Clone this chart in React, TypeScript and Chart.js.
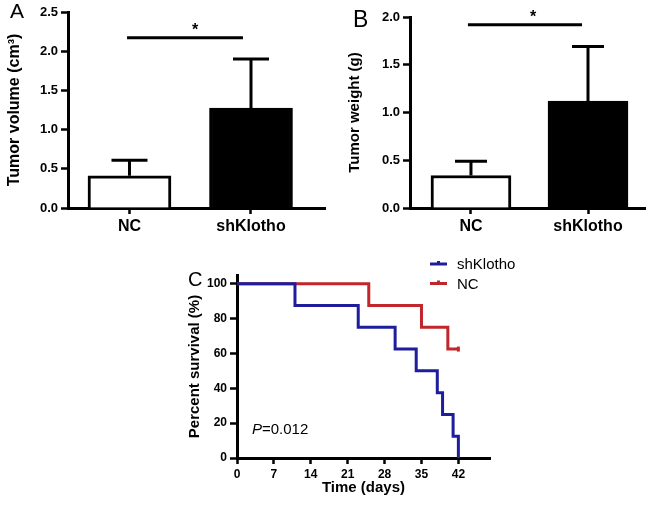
import React, { useEffect, useRef } from 'react';
import { Chart, registerables } from 'chart.js';

Chart.register(...registerables);

const FONT = "'Liberation Sans', Arial, Helvetica, sans-serif";

// ---- Panel A / B data ----
const barCategories = ['NC', 'shKlotho'];
const volumeMeans = [0.41, 1.275];
const volumeErrors = [0.2, 0.625];
const volumeTicks = [0, 0.5, 1.0, 1.5, 2.0, 2.5];
const volumeSigLine = [-0.02, 0.934, 2.17]; // from, to, level
const weightMeans = [0.34, 1.12];
const weightErrors = [0.15, 0.57];
const weightTicks = [0, 0.5, 1.0, 1.5, 2.0];
const weightSigLine = [-0.026, 0.949, 1.92];

// ---- Panel C data ----
const shKlothoDays = [0, 11, 23, 30, 34, 38, 39, 41, 42];
const shKlothoSurvival = [100, 87.5, 75, 62.5, 50, 37.5, 25, 12.5, 0];
const ncDays = [0, 25, 35, 40, 42];
const ncSurvival = [100, 87.5, 75, 62.5, 62.5];
const dayTicks = [0, 7, 14, 21, 28, 35, 42];
const survivalTicks = [0, 20, 40, 60, 80, 100];
const survivalLabels = ['shKlotho', 'NC'];

const BLUE = '#1e1e9c';
const RED = '#c0262c';

type BarProps = {
  left: number; width: number; height: number;
  means: number[]; errors: number[]; ticks: number[]; yMax: number;
  xMin: number; xMax: number; barPx: number; capPx: number;
  sig: number[]; starX: number; title: string; titleSize: number;
  panel: string; panelX: number; panelY: number; panelSize: number;
  padTop: number; yWidth: number; titlePad: number;
};

function BarPanel(p: BarProps) {
  const ref = useRef<HTMLCanvasElement | null>(null);
  useEffect(() => {
    if (!ref.current) return;
    const extras = {
      id: 'barExtras',
      afterDatasetsDraw(chart: any) {
        const ctx = chart.ctx;
        const xs = chart.scales.x;
        const ys = chart.scales.y;
        ctx.save();
        ctx.strokeStyle = '#000';
        ctx.lineWidth = 3;
        p.means.forEach((m, i) => {
          const x = xs.getPixelForValue(i);
          const y0 = ys.getPixelForValue(m);
          const y1 = ys.getPixelForValue(m + p.errors[i]);
          ctx.beginPath();
          ctx.moveTo(x, y0);
          ctx.lineTo(x, y1);
          ctx.moveTo(x - p.capPx / 2, y1);
          ctx.lineTo(x + p.capPx / 2, y1);
          ctx.stroke();
        });
        const sy = ys.getPixelForValue(p.sig[2]);
        ctx.beginPath();
        ctx.moveTo(xs.getPixelForValue(p.sig[0]), sy);
        ctx.lineTo(xs.getPixelForValue(p.sig[1]), sy);
        ctx.stroke();
        ctx.fillStyle = '#000';
        ctx.font = `bold 16px ${FONT}`;
        ctx.textAlign = 'center';
        ctx.textBaseline = 'alphabetic';
        ctx.fillText('*', xs.getPixelForValue(p.starX), sy - 3);
        ctx.font = `${p.panelSize}px ${FONT}`;
        ctx.textAlign = 'left';
        ctx.fillText(p.panel, p.panelX, p.panelY);
        ctx.restore();
      },
    };
    const chart = new Chart(ref.current, {
      type: 'bar',
      data: {
        datasets: [
          {
            data: p.means.map((m, i) => ({ x: i, y: m })),
            backgroundColor: ['#ffffff', '#000000'],
            borderColor: '#000',
            borderWidth: 3,
            barThickness: p.barPx,
          } as any,
        ],
      },
      options: {
        responsive: false,
        animation: false,
        events: [],
        layout: { padding: { top: p.padTop, right: 5, left: 0, bottom: 0 } },
        plugins: { legend: { display: false }, tooltip: { enabled: false } },
        scales: {
          x: {
            type: 'linear',
            offset: false,
            min: p.xMin,
            max: p.xMax,
            afterBuildTicks: (s: any) => { s.ticks = [0, 1].map((v) => ({ value: v })); },
            afterFit: (s: any) => { s.height = 42; },
            ticks: {
              callback: (v: any) => barCategories[Math.round(Number(v))] ?? '',
              font: { family: FONT, weight: 'bold', size: 16 },
              color: '#000',
              padding: 3,
              maxRotation: 0,
              autoSkip: false,
            },
            grid: { offset: false, drawOnChartArea: false, drawTicks: true, tickLength: 6, tickWidth: 2.5, tickColor: '#000', color: '#000' },
            border: { display: true, color: '#000', width: 3 },
          },
          y: {
            type: 'linear',
            min: 0,
            max: p.yMax,
            afterBuildTicks: (s: any) => { s.ticks = p.ticks.map((v) => ({ value: v })); },
            afterFit: (s: any) => { s.width = p.yWidth; },
            ticks: {
              callback: (v: any) => Number(v).toFixed(1),
              font: { family: FONT, weight: 'bold', size: 13 },
              color: '#000',
              padding: 3,
            },
            grid: { drawOnChartArea: false, drawTicks: true, tickLength: 7, tickWidth: 2.5, tickColor: '#000', color: '#000' },
            border: { display: true, color: '#000', width: 3 },
            title: {
              display: true,
              text: p.title,
              color: '#000',
              font: { family: FONT, weight: 'bold', size: p.titleSize },
              padding: { top: p.titlePad, bottom: 0 },
            },
          },
        },
      } as any,
      plugins: [extras],
    });
    return () => chart.destroy();
  }, []);
  return (
    <canvas
      ref={ref}
      width={p.width}
      height={p.height}
      style={{ position: 'absolute', left: p.left, top: 0, width: p.width, height: p.height }}
    />
  );
}

function SurvivalPanel() {
  const ref = useRef<HTMLCanvasElement | null>(null);
  useEffect(() => {
    if (!ref.current) return;
    const colors = [BLUE, RED];
    const extras = {
      id: 'kmExtras',
      afterDraw(chart: any) {
        const ctx = chart.ctx;
        const a = chart.chartArea;
        ctx.save();
        survivalLabels.forEach((lab, i) => {
          const y = a.top - 11 + i * 19.5;
          const x0 = a.right - 60;
          ctx.strokeStyle = colors[i];
          ctx.lineWidth = 3;
          ctx.beginPath();
          ctx.moveTo(x0, y);
          ctx.lineTo(x0 + 17, y);
          ctx.moveTo(x0 + 8.5, y);
          ctx.lineTo(x0 + 8.5, y - 3);
          ctx.stroke();
          ctx.fillStyle = '#000';
          ctx.font = `15px ${FONT}`;
          ctx.textAlign = 'left';
          ctx.textBaseline = 'middle';
          ctx.fillText(lab, x0 + 27, y + 1);
        });
        ctx.fillStyle = '#000';
        ctx.textBaseline = 'middle';
        ctx.textAlign = 'left';
        const px = a.left + 15;
        const py = a.bottom - 28;
        ctx.font = `italic 15px ${FONT}`;
        ctx.fillText('P', px, py);
        const w = ctx.measureText('P').width;
        ctx.font = `15px ${FONT}`;
        ctx.fillText('=0.012', px + w, py);
        ctx.textBaseline = 'alphabetic';
        ctx.font = `20px ${FONT}`;
        ctx.fillText('C', 12, 36);
        ctx.restore();
      },
    };
    const chart = new Chart(ref.current, {
      type: 'line',
      data: {
        datasets: [
          {
            label: survivalLabels[0],
            data: shKlothoDays.map((d, i) => ({ x: d, y: shKlothoSurvival[i] })),
            borderColor: BLUE,
            borderWidth: 3,
            stepped: 'before',
            pointRadius: 0,
            fill: false,
          },
          {
            label: survivalLabels[1],
            data: ncDays.map((d, i) => ({ x: d, y: ncSurvival[i] })),
            borderColor: RED,
            borderWidth: 3,
            stepped: 'before',
            pointRadius: ncDays.map((_, i) => (i === ncDays.length - 1 ? 2.5 : 0)),
            pointStyle: 'line',
            rotation: 90,
            pointBorderColor: RED,
            pointBorderWidth: 3,
            fill: false,
          },
        ],
      } as any,
      options: {
        responsive: false,
        animation: false,
        events: [],
        layout: { padding: { top: 25, right: 36, left: 0, bottom: 0 } },
        plugins: { legend: { display: false }, tooltip: { enabled: false } },
        scales: {
          x: {
            type: 'linear',
            min: 0,
            max: 48,
            afterBuildTicks: (s: any) => { s.ticks = dayTicks.map((v) => ({ value: v })); },
            afterFit: (s: any) => { s.height = 51; },
            ticks: { font: { family: FONT, weight: 'bold', size: 12 }, color: '#000', padding: 3, maxRotation: 0, autoSkip: false },
            grid: { drawOnChartArea: false, drawTicks: true, tickLength: 6, tickWidth: 2.5, tickColor: '#000', color: '#000' },
            border: { display: true, color: '#000', width: 3 },
            title: {
              display: true,
              text: 'Time (days)',
              color: '#000',
              font: { family: FONT, weight: 'bold', size: 15 },
              padding: { top: 0, bottom: 12 },
            },
          },
          y: {
            type: 'linear',
            min: 0,
            max: 105,
            afterBuildTicks: (s: any) => { s.ticks = survivalTicks.map((v) => ({ value: v })); },
            afterFit: (s: any) => { s.width = 61; },
            ticks: { font: { family: FONT, weight: 'bold', size: 12 }, color: '#000', padding: 3 },
            grid: { drawOnChartArea: false, drawTicks: true, tickLength: 7, tickWidth: 2.5, tickColor: '#000', color: '#000' },
            border: { display: true, color: '#000', width: 3 },
            title: {
              display: true,
              text: 'Percent survival (%)',
              color: '#000',
              font: { family: FONT, weight: 'bold', size: 15 },
              padding: { top: 10, bottom: 0 },
            },
          },
        },
      } as any,
      plugins: [extras],
    });
    return () => chart.destroy();
  }, []);
  return (
    <canvas
      ref={ref}
      width={350}
      height={259}
      style={{ position: 'absolute', left: 176, top: 250, width: 350, height: 259 }}
    />
  );
}

export default function App() {
  return (
    <div style={{ position: 'absolute', left: 0, top: 0, width: 650, height: 509, background: '#fff', overflow: 'hidden' }}>
      <BarPanel
        left={0} width={330} height={250}
        means={volumeMeans} errors={volumeErrors} ticks={volumeTicks} yMax={2.5}
        xMin={-0.506} xMax={1.609} barPx={83} capPx={36}
        sig={volumeSigLine} starX={0.54} title="Tumor volume (cm³)" titleSize={16}
        panel="A" panelX={10} panelY={18} panelSize={21}
        padTop={12} yWidth={68} titlePad={5}
      />
      <BarPanel
        left={325} width={325} height={250}
        means={weightMeans} errors={weightErrors} ticks={weightTicks} yMax={2.0}
        xMin={-0.521} xMax={1.487} barPx={80} capPx={32}
        sig={weightSigLine} starX={0.53} title="Tumor weight (g)" titleSize={15}
        panel="B" panelX={28} panelY={27} panelSize={23}
        padTop={17} yWidth={85} titlePad={21}
      />
      <SurvivalPanel />
    </div>
  );
}
